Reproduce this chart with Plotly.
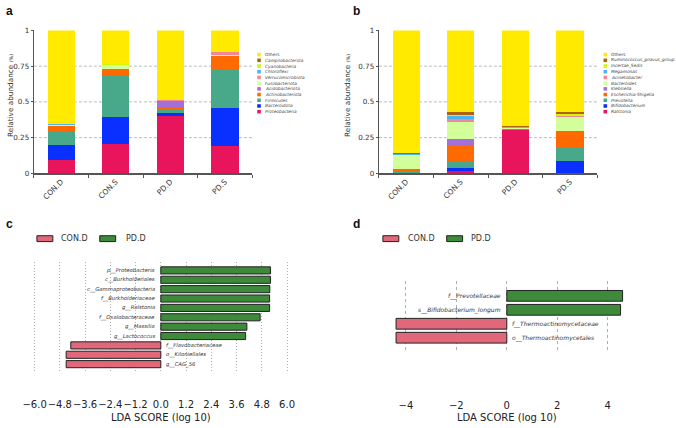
import plotly.graph_objects as go

W, H = 676, 428

# ---------------- data ----------------
samples = ["CON.D", "CON.S", "PD.D", "PD.S"]

# panel a (phylum level), bottom -> top
phyla = ["Proteobacteria", "Bacteroidota", "Firmicutes", "Actinobacteriota",
         "Acidobacteriota", "Fusobacteriota", "Verrucomicrobiota", "Chloroflexi",
         "Cyanobacteria", "Campilobacterota", "Others"]
proteobacteria = [0.096, 0.203, 0.404, 0.192]
bacteroidota = [0.105, 0.194, 0.016, 0.262]
firmicutes = [0.098, 0.290, 0.032, 0.267]
actinobacteriota = [0.032, 0.040, 0.014, 0.101]
acidobacteriota = [0.002, 0.002, 0.041, 0.002]
fusobacteriota = [0.003, 0.026, 0.002, 0.002]
verrucomicrobiota = [0.004, 0.004, 0.001, 0.020]
chloroflexi = [0.002, 0.002, 0.001, 0.001]
cyanobacteria = [0.001, 0.001, 0.001, 0.001]
campilobacterota = [0.002, 0.002, 0.001, 0.001]
others_a = [0.655, 0.236, 0.487, 0.151]

# panel b (genus level), bottom -> top
genera = ["Ralstonia", "Bifidobacterium", "Prevotella", "Escherichia-Shigella",
          "Klebsiella", "Bacteroides", "Acinetobacter", "Megamonas",
          "Incertae_Sedis", "Ruminococcus_gnavus_group", "Others"]
ralstonia = [0.004, 0.014, 0.300, 0.005]
bifidobacterium = [0.002, 0.023, 0.002, 0.084]
prevotella = [0.006, 0.052, 0.006, 0.098]
escherichia_shigella = [0.020, 0.112, 0.003, 0.108]
klebsiella = [0.001, 0.036, 0.002, 0.002]
bacteroides = [0.093, 0.121, 0.005, 0.100]
acinetobacter = [0.001, 0.023, 0.003, 0.004]
megamonas = [0.005, 0.023, 0.002, 0.003]
incertae_sedis = [0.003, 0.001, 0.002, 0.012]
ruminococcus_gnavus_group = [0.010, 0.021, 0.004, 0.010]
others_b = [0.855, 0.574, 0.671, 0.574]

yticks_ab = [0, 0.25, 0.5, 0.75, 1]
yticktext_ab = ["0", "0.25", "0.5", "0.75", "1"]
gridvals_ab = [0.25, 0.5, 0.75]

# panel c (LEfSe)
c_order = ["p__Proteobacteria", "c__Burkholderiales", "c__Gammaproteobacteria",
           "f__Burkholderiaceae", "g__Ralstonia", "f__Oxalobacteraceae",
           "g__Massilia", "g__Lactococcus", "f__Flavobacteriaceae",
           "o__Kiloniellales", "g__CAG_56"]
c_pd_names = c_order[:8]
c_pd_scores = [5.21, 5.21, 5.18, 5.17, 5.17, 4.72, 4.09, 4.03]
c_con_names = c_order[8:]
c_con_scores = [-4.28, -4.50, -4.50]
c_ticks = [-6.0, -4.8, -3.6, -2.4, -1.2, 0.0, 1.2, 2.4, 3.6, 4.8, 6.0]

# panel d (LEfSe)
d_order = ["f__Prevotellaceae", "s__Bifidobacterium_longum",
           "f__Thermoactinomycetaceae", "o__Thermoactinomycetales"]
d_pd_names = d_order[:2]
d_pd_scores = [4.59, 4.51]
d_con_names = d_order[2:]
d_con_scores = [-4.39, -4.39]
d_ticks = [-4, -2, 0, 2, 4]

groups = ["CON.D", "PD.D"]

# ---------------- styles ----------------
stack_colors = ["#e8145c", "#0a30ff", "#48a88a", "#ff6a00", "#a46fd6",
                "#d2ff9a", "#f2879a", "#48b6f2", "#d2f500", "#b0620e", "#ffea00"]
PINK = "#e0687a"
GREEN = "#3c8a3a"
FONT = "DejaVu Sans"


def px(x):
    return x / W


def py(y):
    return 1 - y / H


def fmt_tick(v):
    s = f"{abs(v):.1f}"
    return ("\u2212" + s) if v < 0 else s


fig = go.Figure()

series_a = [proteobacteria, bacteroidota, firmicutes, actinobacteriota, acidobacteriota,
            fusobacteriota, verrucomicrobiota, chloroflexi, cyanobacteria,
            campilobacterota, others_a]
series_b = [ralstonia, bifidobacterium, prevotella, escherichia_shigella, klebsiella,
            bacteroides, acinetobacter, megamonas, incertae_sedis,
            ruminococcus_gnavus_group, others_b]

for name, vals, col in zip(phyla, series_a, stack_colors):
    fig.add_trace(go.Bar(x=samples, y=vals, name=name, marker_color=col,
                         marker_line_width=0, width=0.5, xaxis="x", yaxis="y",
                         showlegend=False))
for name, vals, col in zip(genera, series_b, stack_colors):
    fig.add_trace(go.Bar(x=samples, y=vals, name=name, marker_color=col,
                         marker_line_width=0, width=0.5, xaxis="x2", yaxis="y2",
                         showlegend=False))

# LEfSe bars
fig.add_trace(go.Bar(y=c_pd_names, x=c_pd_scores, orientation="h", name=groups[1],
                     marker=dict(color=GREEN, line=dict(color="#222", width=1)),
                     width=0.76, xaxis="x3", yaxis="y3", showlegend=False))
fig.add_trace(go.Bar(y=c_con_names, x=c_con_scores, orientation="h", name=groups[0],
                     marker=dict(color=PINK, line=dict(color="#222", width=1)),
                     width=0.76, xaxis="x3", yaxis="y3", showlegend=False))
fig.add_trace(go.Bar(y=d_pd_names, x=d_pd_scores, orientation="h", name=groups[1],
                     marker=dict(color=GREEN, line=dict(color="#222", width=1)),
                     width=0.77, xaxis="x4", yaxis="y4", showlegend=False))
fig.add_trace(go.Bar(y=d_con_names, x=d_con_scores, orientation="h", name=groups[0],
                     marker=dict(color=PINK, line=dict(color="#222", width=1)),
                     width=0.77, xaxis="x4", yaxis="y4", showlegend=False))

axis_ab_x = dict(type="category", categoryorder="array", categoryarray=samples,
                 range=[-0.5, 3.5], showline=True, linecolor="#555", linewidth=1.2,
                 ticks="outside", tickson="boundaries", ticklen=3, tickcolor="#555",
                 tickangle=-45, tickfont=dict(family=FONT, size=7.5, color="#333"),
                 showgrid=False, fixedrange=True)
axis_ab_y = dict(range=[0, 1], tickvals=yticks_ab, ticktext=yticktext_ab,
                 showline=True, linecolor="#555", linewidth=1.2, ticks="outside",
                 ticklen=2, tickcolor="#555", showgrid=False, zeroline=False,
                 tickfont=dict(family=FONT, size=7.2, color="#333"))

shapes = []
annotations = []

# LEfSe taxon labels, placed on the bar axes at the zero line
for names, xr, yr, side, fs in ((c_pd_names, "x3", "y3", -1, 5.3), (c_con_names, "x3", "y3", 1, 5.3),
                                (d_pd_names, "x4", "y4", -1, 6.0), (d_con_names, "x4", "y4", 1, 6.0)):
    for n in names:
        annotations.append(dict(xref=xr, yref=yr, x=0, y=n, text=f"<i>{n}</i>",
                                showarrow=False, xanchor="right" if side < 0 else "left",
                                yanchor="middle", xshift=4 * side if side < 0 else 3.5,
                                font=dict(family=FONT, size=fs, color="#333")))

for xa, ya in (("x", "y"), ("x2", "y2")):
    for g in gridvals_ab:
        shapes.append(dict(type="line", xref=f"{xa} domain", yref=ya, x0=0, x1=1,
                           y0=g, y1=g, layer="below",
                           line=dict(color="#aaaaaa", width=0.8, dash="3px,2px")))

# small legends for a and b (drawn top -> bottom)
for x0, names in ((256, phyla), (603.3, genera)):
    for i, (n, col) in enumerate(zip(names[::-1], stack_colors[::-1])):
        yc = 51.7 + i * 5.83
        shapes.append(dict(type="rect", xref="paper", yref="paper",
                           x0=px(x0), x1=px(x0 + 3.6), y0=py(yc - 1.8), y1=py(yc + 1.8),
                           fillcolor=col, line=dict(width=0)))
        txt = n if n == "Others" else f"<i>{n}</i>"
        annotations.append(dict(xref="paper", yref="paper", x=px(x0 + 5.3), y=py(yc),
                                text=txt, showarrow=False, xanchor="left",
                                yanchor="middle", font=dict(family=FONT, size=4.3,
                                                            color="#444")))

# y titles for a and b
for xt in (8, 346):
    annotations.append(dict(xref="paper", yref="paper", x=px(xt), y=py(93),
                            xanchor="center", yanchor="middle",
                            text="Relative abundance <span style='font-size:5px'>(%)</span>",
                            textangle=-90, showarrow=False,
                            font=dict(family=FONT, size=7.3, color="#333")))

# panel letters
for letter, (lx, ly) in zip("abcd", ((8, 7), (356, 7), (8, 225), (356, 225))):
    annotations.append(dict(xref="paper", yref="paper", x=px(lx), y=py(ly), text=f"<b>{letter}</b>",
                            xanchor="center", yanchor="middle",
                            showarrow=False, font=dict(family="Liberation Sans", size=12, color="#111")))

# legends for c and d
for (bx1, tx1, bx2, tx2) in ((35, 57, 98, 122), (382, 405, 446, 468)):
    for bx, tx, col, g in ((bx1, tx1, PINK, groups[0]), (bx2, tx2, GREEN, groups[1])):
        shapes.append(dict(type="rect", xref="paper", yref="paper",
                           x0=px(bx), x1=px(bx + 16), y0=py(236.7), y1=py(242.7),
                           fillcolor=col, line=dict(color="#222", width=1)))
        annotations.append(dict(xref="paper", yref="paper", x=px(tx), y=py(239.5), text=g,
                                showarrow=False, xanchor="left", yanchor="middle",
                                font=dict(family=FONT, size=8, color="#333")))

# x titles for c and d
for xr in ("x3", "x4"):
    annotations.append(dict(xref=xr, yref="paper", x=0, y=py(422), text="LDA SCORE (log 10)",
                            showarrow=False, xanchor="center", yanchor="middle",
                            font=dict(family=FONT, size=10, color="#222")))

lefse_x = dict(showgrid=True, gridcolor="#9a9a9a", gridwidth=0.8, zeroline=False,
               showline=False, ticks="", tickangle=0,
               tickfont=dict(family=FONT, size=10, color="#222"))

fig.update_layout(
    width=W, height=H, margin=dict(l=0, r=0, t=0, b=0),
    paper_bgcolor="white", plot_bgcolor="white",
    barmode="relative", bargap=0,
    xaxis=dict(axis_ab_x, domain=[px(32), px(251)], anchor="y"),
    yaxis=dict(axis_ab_y, domain=[py(173), py(27)], anchor="x"),
    xaxis2=dict(axis_ab_x, domain=[px(378), px(597)], anchor="y2"),
    yaxis2=dict(axis_ab_y, domain=[py(173), py(27)], anchor="x2"),
    xaxis3=dict(lefse_x, domain=[px(159.3 - 6.5 * 21.1), px(159.3 + 6.5 * 21.1)], anchor="y3",
                range=[-6.5, 6.5], tickvals=c_ticks, ticktext=[fmt_tick(v) for v in c_ticks],
                griddash="1px,2px", ticklabelstandoff=24),
    yaxis3=dict(domain=[py(376.7), py(263.3)], anchor="x3", type="category",
                categoryorder="array", categoryarray=c_order,
                range=[len(c_order) - 1 + 0.92, -0.92], showticklabels=False,
                showgrid=False, zeroline=False, showline=False),
    xaxis4=dict(lefse_x, domain=[px(506.3 - 4.7 * 25.3), px(506.3 + 4.9 * 25.3)], anchor="y4",
                range=[-4.7, 4.9], tickvals=d_ticks,
                ticktext=[("\u2212" + str(abs(v))) if v < 0 else str(v) for v in d_ticks],
                griddash="3px,3px", ticklabelstandoff=45),
    yaxis4=dict(domain=[py(356), py(283)], anchor="x4", type="category",
                categoryorder="array", categoryarray=d_order,
                range=[len(d_order) - 1 + 1.06, -1.06], showticklabels=False,
                showgrid=False, zeroline=False, showline=False),
    shapes=shapes, annotations=annotations,
)

fig.write_html("out.html", config={"displayModeBar": False, "staticPlot": True},
               post_script="document.body.style.margin='0';document.body.style.overflow='hidden';")
